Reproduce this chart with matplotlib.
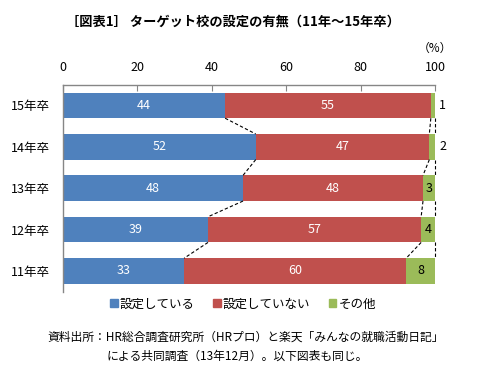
import matplotlib
matplotlib.use("Agg")
import matplotlib.pyplot as plt
from matplotlib.patches import Rectangle
import numpy as np

plt.rcParams['font.family'] = ['Noto Sans CJK JP', 'DejaVu Sans']

categories = ["15年卒", "14年卒", "13年卒", "12年卒", "11年卒"]
set_yes = [43.6, 51.8, 48.4, 39.0, 32.6]
set_no = [55.2, 46.6, 48.3, 57.2, 59.6]
other = [1.2, 1.6, 3.3, 3.8, 7.8]
label_yes = [44, 52, 48, 39, 33]
label_no = [55, 47, 48, 57, 60]
label_other = [1, 2, 3, 4, 8]
series_names = ["設定している", "設定していない", "その他"]
colors = ["#4F81BD", "#C0504D", "#9BBB59"]
xticks = [0, 20, 40, 60, 80, 100]

fig = plt.figure(figsize=(4.99, 3.74), dpi=100)
ax = fig.add_axes([62.7/499, 1-291.7/374, (435.3-62.7)/499, (291.7-84.7)/374])

y = np.arange(len(categories))
h = 0.62
series = [np.array(set_yes), np.array(set_no), np.array(other)]
labels = [label_yes, label_no, label_other]
left = np.zeros(len(categories))
ends = []
for k, (vals, col) in enumerate(zip(series, colors)):
    ax.barh(y, vals, left=left, height=h, color=col, label=series_names[k], zorder=2)
    for i in range(len(categories)):
        if k < 2:
            ax.text(left[i] + vals[i]/2, y[i], str(labels[k][i]), ha='center', va='center',
                    color='white', fontsize=9)
        else:
            if vals[i] < 2.5:
                ax.text(left[i] + vals[i] + 1.0, y[i], str(labels[k][i]), ha='left', va='center',
                        color='black', fontsize=9)
            else:
                ax.text(left[i] + vals[i]/2, y[i], str(labels[k][i]), ha='center', va='center',
                        color='black', fontsize=9)
    left = left + vals
    ends.append(left.copy())

# series lines
for e in ends:
    e = np.minimum(e, 100)
    for i in range(len(categories)-1):
        ax.plot([e[i], e[i+1]], [y[i] + h/2, y[i+1] - h/2], color='black', lw=0.8,
                linestyle=(0, (3, 2)), zorder=3, clip_on=False)

ax.set_xlim(0, 100)
ax.set_ylim(len(categories)-0.5, -0.5)
ax.set_yticks(y)
ax.set_yticklabels(categories, fontsize=9)
ax.set_xticks(xticks)
ax.xaxis.tick_top()
ax.tick_params(axis='x', direction='in', length=4, color='#868686', labelsize=9, pad=8)
ax.tick_params(axis='y', length=0, pad=9)
for s in ['right', 'bottom']:
    ax.spines[s].set_visible(False)
for s in ['top', 'left']:
    ax.spines[s].set_color('#868686')
    ax.spines[s].set_linewidth(1)

fig.text(233/499, 1-22/374, "［図表1］ ターゲット校の設定の有無（11年～15年卒）", ha='center', va='center',
         fontsize=9.5, fontweight='bold')
fig.text(435/499, 1-48/374, "（%）", ha='center', va='center', fontsize=8.5)

handles = [Rectangle((0, 0), 1, 1, color=c) for c in colors]
fig.legend(handles, series_names, loc='center', bbox_to_anchor=(243/499, 1-304/374), ncol=3,
           frameon=False, fontsize=9, handlelength=0.6, handleheight=0.6, handletextpad=0.15,
           columnspacing=1.5)

fig.text(47/499, 1-337/374, "資料出所：HR総合調査研究所（HRプロ）と楽天「みんなの就職活動日記」",
         ha='left', va='center', fontsize=8.5)
fig.text(107/499, 1-356/374, "による共同調査（13年12月）。以下図表も同じ。",
         ha='left', va='center', fontsize=8.5)

fig.savefig("out.png", dpi=100)
